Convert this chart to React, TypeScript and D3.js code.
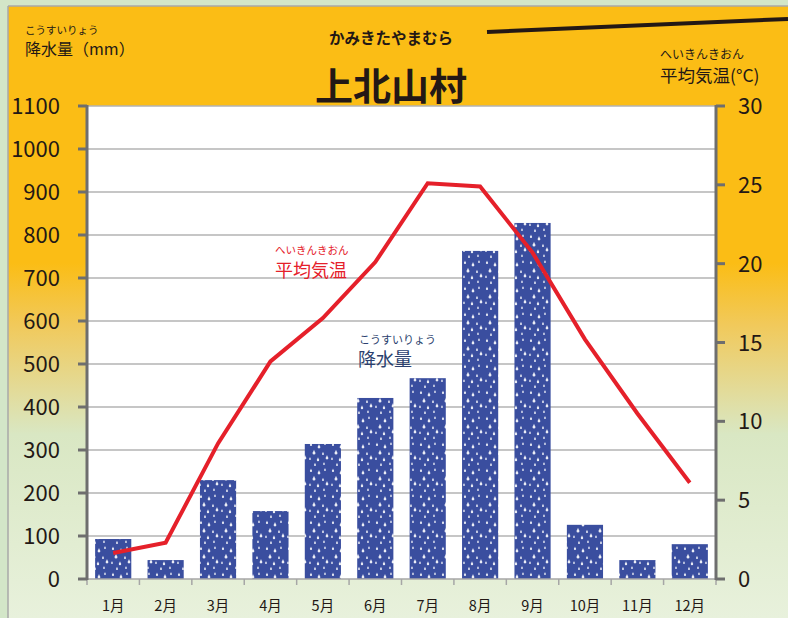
import React from "react";
import * as d3 from "d3";

const months = ["1月","2月","3月","4月","5月","6月","7月","8月","9月","10月","11月","12月"];
const precipitation = [93, 44, 230, 158, 314, 421, 467, 763, 828, 126, 44, 81];
const temperature = [1.65, 2.3, 8.6, 13.8, 16.55, 20.1, 25.1, 24.9, 20.7, 15.2, 10.5, 6.1];
const leftTicks = [0,100,200,300,400,500,600,700,800,900,1000,1100];
const rightTicks = [0,5,10,15,20,25,30];

const W = 788, H = 618;
const X0 = 87, X1 = 716, Y0 = 579, Y1 = 106;
const FONT = "'Noto Sans CJK JP', 'Noto Sans', sans-serif";

export default function App() {
  const x = d3.scaleBand<string>().domain(months).range([X0, X1]).paddingInner(0.31).paddingOuter(0.155);
  const xc = d3.scaleBand<string>().domain(months).range([X0, X1]);
  const yL = d3.scaleLinear().domain([0, 1100]).range([Y0, Y1]);
  const yR = d3.scaleLinear().domain([0, 30]).range([Y0, Y1]);
  const line = d3.line<number>()
    .x((_, i) => (xc(months[i]) as number) + xc.bandwidth() / 2)
    .y((d) => yR(d));

  const drops: [number, number, number][] = [
    [3, 3, 1.1], [11, 5, 1.4], [17, 2, 0.9], [6, 11, 1.5], [15, 12, 1.0],
    [2, 17, 0.9], [10, 18, 1.2], [19, 16, 1.4], [7, 23, 1.0], [16, 22, 0.9],
  ];
  const dropPath = (cx: number, cy: number, r: number) =>
    `M${cx},${cy - r * 2.2} C${cx + r * 0.4},${cy - r} ${cx + r},${cy - r * 0.3} ${cx + r},${cy} A${r},${r} 0 0 1 ${cx - r},${cy} C${cx - r},${cy - r * 0.3} ${cx - r * 0.4},${cy - r} ${cx},${cy - r * 2.2}Z`;

  return (
    <svg width={W} height={H} style={{ position: "absolute", left: 0, top: 0, fontFamily: FONT }}>
      <defs>
        <linearGradient id="bg" x1="0" y1="0" x2="0" y2="1" gradientUnits="objectBoundingBox">
          <stop offset="0" stopColor="#fbbd15" />
          <stop offset="0.42" stopColor="#fbbd15" />
          <stop offset="0.52" stopColor="#f1c95a" />
          <stop offset="0.7" stopColor="#d9e7c3" />
          <stop offset="1" stopColor="#e8f1dc" />
        </linearGradient>
        <pattern id="rain" width="22" height="26" patternUnits="userSpaceOnUse">
          <rect width="22" height="26" fill="#3a4e9f" />
          {drops.map(([cx, cy, r], i) => (
            <path key={i} d={dropPath(cx, cy, r)} fill="#ffffff" opacity={0.9} />
          ))}
        </pattern>
      </defs>
      <rect width={W} height={H} fill="#d3e6c8" />
      <rect x={8} y={6} width={W - 8} height={H - 6} fill="url(#bg)" />
      <line x1={8} y1={6} x2={W} y2={6} stroke="#a9a9a9" strokeWidth={1.5} />
      <line x1={8} y1={6} x2={8} y2={H} stroke="#a9a9a9" strokeWidth={1.5} />

      {/* plot area */}
      <rect x={X0} y={Y1} width={X1 - X0} height={Y0 - Y1} fill="#ffffff" />
      {leftTicks.slice(1).map((t) => (
        <line key={t} x1={X0} x2={X1} y1={yL(t)} y2={yL(t)} stroke="#b3b3b3" strokeWidth={1.5} />
      ))}

      {/* header texts */}
      <text x={25} y={34} fontSize={10.5} fill="#231815">こうすいりょう</text>
      <text x={25} y={55} fontSize={16} fill="#231815">降水量（mm）</text>
      <text x={391} y={44} fontSize={15.5} fontWeight="bold" textAnchor="middle" fill="#231815">かみきたやまむら</text>
      <text x={391} y={100} fontSize={38} fontWeight="bold" textAnchor="middle" fill="#231815">上北山村</text>
      <line x1={487} y1={32} x2={W} y2={19} stroke="#231815" strokeWidth={4} />
      <text x={660} y={59} fontSize={12} fill="#231815">へいきんきおん</text>
      <text x={660} y={82} fontSize={17.5} fill="#231815">平均気温(°C)</text>

      {/* bars */}
      {precipitation.map((v, i) => (
        <rect key={i} x={x(months[i])} y={yL(v)} width={x.bandwidth()} height={Y0 - yL(v)} fill="url(#rain)" />
      ))}

      {/* x axis */}
      <line x1={X0} x2={X1} y1={Y0} y2={Y0} stroke="#a6a6a6" strokeWidth={1.5} />
      {d3.range(months.length + 1).map((i) => {
        const px = X0 + i * xc.step();
        return <line key={i} x1={px} x2={px} y1={Y0} y2={Y0 + 6} stroke="#a6a6a6" strokeWidth={1.5} />;
      })}
      {months.map((m) => (
        <text key={m} x={(xc(m) as number) + xc.bandwidth() / 2} y={611} fontSize={14.5} textAnchor="middle" fill="#231815">{m}</text>
      ))}

      {/* left axis */}
      <line x1={X0} x2={X0} y1={Y1 - 1} y2={Y0 + 1} stroke="#6e6e6e" strokeWidth={3} />
      {leftTicks.map((t) => (
        <g key={t}>
          <line x1={X0 - 9} x2={X0} y1={yL(t)} y2={yL(t)} stroke="#6e6e6e" strokeWidth={3} />
          <text x={60} y={yL(t) + 8} fontSize={22} textAnchor="end" fill="#231815">{t}</text>
        </g>
      ))}

      {/* right axis */}
      <line x1={X1} x2={X1} y1={Y1 - 1} y2={Y0 + 1} stroke="#6e6e6e" strokeWidth={3} />
      {rightTicks.map((t) => (
        <g key={t}>
          <line x1={X1} x2={X1 + 9} y1={yR(t)} y2={yR(t)} stroke="#6e6e6e" strokeWidth={3} />
          <text x={738} y={yR(t) + 8} fontSize={22} textAnchor="start" fill="#231815">{t}</text>
        </g>
      ))}

      {/* temperature line */}
      <path d={line(temperature) || ""} fill="none" stroke="#e5202a" strokeWidth={4} strokeLinejoin="miter" />

      {/* inline labels */}
      <text x={275} y={254} fontSize={10.5} fill="#e5202a">へいきんきおん</text>
      <text x={275} y={277} fontSize={18} fill="#e5202a">平均気温</text>
      <text x={359} y={344} fontSize={11} fill="#2b3f6e">こうすいりょう</text>
      <text x={358} y={366} fontSize={18} fill="#2b3f6e">降水量</text>
    </svg>
  );
}
